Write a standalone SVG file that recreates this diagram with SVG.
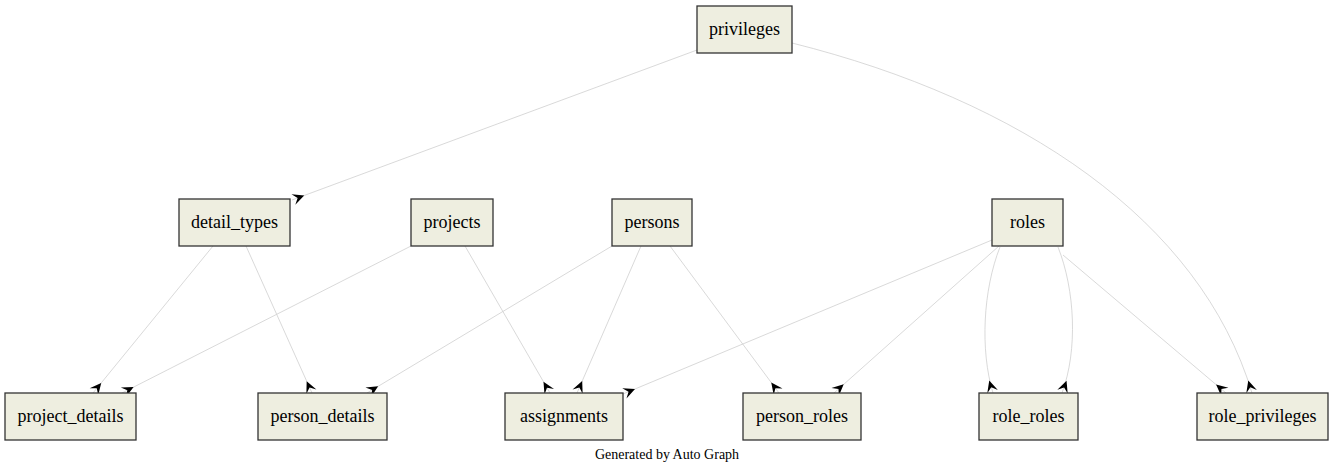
<svg xmlns="http://www.w3.org/2000/svg" width="1335" height="475" viewBox="0 0 1335 475">
<style>
.n rect{fill:#eeeee0;stroke:#333;stroke-width:1.3}
.n text{font-family:'Liberation Serif','DejaVu Serif','Times New Roman',Times,serif;font-size:18px;fill:#000;text-anchor:middle}
.e path{fill:none;stroke:#cfcfcf;stroke-width:0.8;marker-end:url(#v)}
.foot{font-family:'Liberation Serif','DejaVu Serif','Times New Roman',Times,serif;font-size:14px;fill:#000;text-anchor:middle}
</style>
<defs>
<marker id="v" markerUnits="userSpaceOnUse" markerWidth="16" markerHeight="14" viewBox="-15 -7 16 14" refX="0" refY="0" orient="auto">
<path d="M-13,0 L-1.5,-5.5 L-6,0 L-1.5,5.5 z" fill="#000"/>
</marker>
</defs>
<rect width="1335" height="475" fill="#fff"/>
<g class="e" id="edges">
<path d="M697,50 L292,200"/>
<path d="M792,43 C1020,100 1200,220 1252,393"/>
<path d="M213,246 L93,393"/>
<path d="M246,246 L312,393"/>
<path d="M411,246 L122,393"/>
<path d="M465,246 L550,393"/>
<path d="M612,246 L367,393"/>
<path d="M641,246 L577,393"/>
<path d="M670,246 L779,393"/>
<path d="M992,240 L623,394"/>
<path d="M999,246 L834,393"/>
<path d="M1000,247 C983,290 980,350 993,393"/>
<path d="M1058,247 C1075,290 1078,350 1062,393"/>
<path d="M1063,255 L1226,393"/>
</g>
<g class="n" id="privileges"><rect x="697" y="6" width="95" height="47"/><text x="744.5" y="35">privileges</text></g>
<g class="n" id="detail_types"><rect x="179" y="199" width="111" height="47"/><text x="234.5" y="228">detail_types</text></g>
<g class="n" id="projects"><rect x="411" y="199" width="82" height="47"/><text x="452" y="228">projects</text></g>
<g class="n" id="persons"><rect x="612" y="199" width="80" height="47"/><text x="652" y="228">persons</text></g>
<g class="n" id="roles"><rect x="992" y="199" width="71" height="47"/><text x="1027.5" y="228">roles</text></g>
<g class="n" id="project_details"><rect x="5" y="393" width="131" height="47"/><text x="70.5" y="422">project_details</text></g>
<g class="n" id="person_details"><rect x="258" y="393" width="129" height="47"/><text x="322.5" y="422">person_details</text></g>
<g class="n" id="assignments"><rect x="505" y="393" width="118" height="47"/><text x="564" y="422">assignments</text></g>
<g class="n" id="person_roles"><rect x="743" y="393" width="118" height="47"/><text x="802" y="422">person_roles</text></g>
<g class="n" id="role_roles"><rect x="979" y="393" width="99" height="47"/><text x="1028.5" y="422">role_roles</text></g>
<g class="n" id="role_privileges"><rect x="1197" y="393" width="131" height="47"/><text x="1262.5" y="422">role_privileges</text></g>
<text class="foot" x="667" y="459">Generated by Auto Graph</text>
</svg>
